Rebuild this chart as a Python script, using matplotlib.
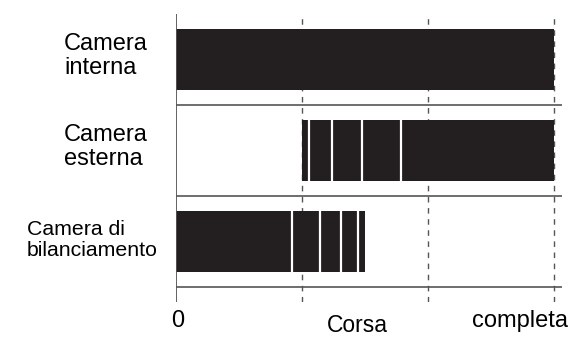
import matplotlib
matplotlib.use("Agg")
import matplotlib.pyplot as plt

# ---- data ----
categories = ["Camera\ninterna", "Camera\nesterna", "Camera di\nbilanciamento"]
bar_start = [0.0, 1/3, 0.0]
bar_end = [1.0, 1.0, 0.5]
dividers = [[], [0.353, 0.413, 0.493, 0.595], [0.308, 0.382, 0.437, 0.481]]
grid_x = [1/3, 2/3, 1.0]
tick_labels = ["0", "completa"]
x_label = "Corsa"

plt.rcParams['font.family'] = ['Liberation Sans', 'DejaVu Sans']

W, H = 571, 338
fig = plt.figure(figsize=(W/100, H/100), dpi=100)
ax_left, ax_right, ax_top, ax_bot = 176, 562, 14, 301.7
ax = fig.add_axes([ax_left/W, 1-ax_bot/H, (ax_right-ax_left)/W, (ax_bot-ax_top)/H])
ax.set_xlim(0, 1.022)
ax.set_ylim(2.665, -0.5)
ax.axis('off')

line_col = '#555555'
bar_col = '#231f20'
bar_h = 0.67

for gx in grid_x:
    ax.axvline(gx, color=line_col, lw=1.0, ls=(0, (4, 4)), zorder=1)
ax.axvline(0, color=line_col, lw=1.3, zorder=3)
for sep in [0.5, 1.5, 2.5]:
    ax.axhline(sep, color=line_col, lw=1.2, zorder=1)

for i, (s, e) in enumerate(zip(bar_start, bar_end)):
    ax.barh(i, e - s, left=s, height=bar_h, color=bar_col, zorder=2)
    for d in dividers[i]:
        ax.vlines(d, i - bar_h/2, i + bar_h/2, color='white', lw=1.6, zorder=2.5)

def ftext(x, y, s, size=17, **kw):
    fig.text(x/W, 1-y/H, s, fontsize=size, color='black', **kw)

label_pos = [(64, 56), (64, 147), (27, 240)]
label_size = [17, 17, 15.3]
for (lx, ly), lab, sz in zip(label_pos, categories, label_size):
    ftext(lx, ly, lab, size=sz, ha='left', va='center', multialignment='left', linespacing=1.1)

ftext(177.5, 327, tick_labels[0], ha='center', va='baseline')
ftext(520, 327, tick_labels[1], ha='center', va='baseline')
ftext(357, 332.5, x_label, size=16.5, ha='center', va='baseline')

fig.savefig("out.png", dpi=100)
